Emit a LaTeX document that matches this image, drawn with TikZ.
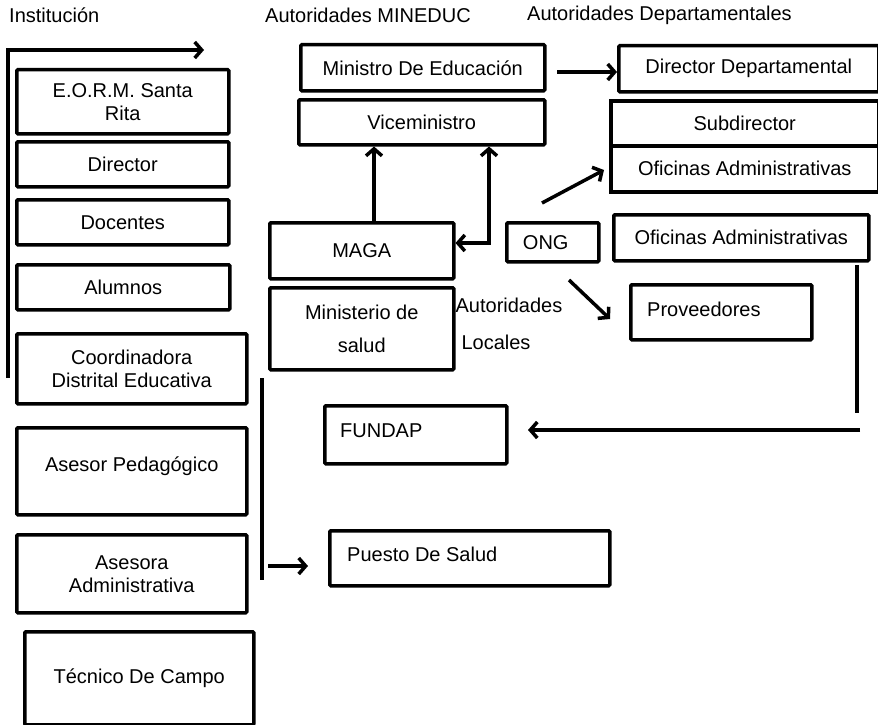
\documentclass[tikz,border=0pt]{standalone}
\usepackage{fontspec}
\setmainfont{Liberation Sans}
\usetikzlibrary{arrows.meta,calc}
\begin{document}
\begin{tikzpicture}[x=1pt,y=-1pt,
  every node/.style={font=\fontsize{20}{23}\selectfont, inner sep=0pt},
  box/.style={draw, line width=3.5pt, rounded corners=1pt, align=center, anchor=north west},
  ln/.style={line width=3.5pt},
  arr/.style={line width=3.5pt, -{Straight Barb[length=7pt,width=16pt,line width=3.5pt]}},
  darr/.style={line width=3.5pt, {Straight Barb[length=7pt,width=16pt,line width=3.5pt]}-{Straight Barb[length=7pt,width=16pt,line width=3.5pt]}},
  lab/.style={anchor=west}]
\useasboundingbox (0,0) rectangle (878,725);

% headers
\node[lab] (hInst) at (9,15) {Institución};
\node[lab] (hMin) at (265,15) {Autoridades MINEDUC};
\node[lab] (hDep) at (527,15) {Autoridades Departamentales};

% left column
\node[box, minimum width=212, minimum height=64] (eorm) at (15,68) {E.O.R.M. Santa\\Rita};
\node[box, minimum width=212, minimum height=45] (dir) at (15,140) {Director};
\node[box, minimum width=212, minimum height=45] (doc) at (15,198) {Docentes};
\node[box, minimum width=213, minimum height=45] (alu) at (15,263) {Alumnos};
\node[box, minimum width=230, minimum height=70] (coord) at (15,332) {Coordinadora\\Distrital Educativa};
\node[box, minimum width=230, minimum height=87] (ases) at (15,426) {Asesor Pedagógico\\[-8pt]};
\node[box, minimum width=230, minimum height=78] (asea) at (15,533) {Asesora\\Administrativa};
\node[box, minimum width=229, minimum height=93] (tec) at (23,630) {Técnico De Campo};

% left bracket arrow
\coordinate (lb) at (8,378);
\coordinate (lt) at (8,50);
\coordinate (la) at (204,50);
\draw[arr] (lb) -- (lt) -- (la);

% MINEDUC
\node[box, minimum width=244, minimum height=46] (minis) at (299,43) {Ministro De Educación};
\node[box, minimum width=246, minimum height=45] (vice) at (297,98) {Viceministro};
\node[box, minimum width=184, minimum height=56] (maga) at (268,221) {MAGA};
\node[box, minimum width=92, minimum height=39] (ong) at (505,221) {ONG\hspace{14pt}};
\node[box, minimum width=184, minimum height=82] (msal) at (268,286) {Ministerio de\\[10pt]salud};
\node[box, minimum width=182, minimum height=58] (fundap) at (323,404) {};
\node[anchor=west] (fundapT) at ($(fundap.west)+(17,-4)$) {FUNDAP};
\node[box, minimum width=280, minimum height=55] (puesto) at (328,529) {};
\node[anchor=west] (puestoT) at ($(puesto.west)+(19,-4)$) {Puesto De Salud};

\node (autA) at (509,305) {Autoridades};
\node (autB) at (496,342) {Locales};

% departamentales
\node[box, minimum width=260, minimum height=46] (dd) at (617,44) {Director Departamental};
\node[box, minimum width=268, minimum height=45, rounded corners=0pt] (sub) at (609,99) {Subdirector};
\node[box, minimum width=268, minimum height=46, rounded corners=0pt] (ofi1) at (609,144) {Oficinas Administrativas};
\node[box, minimum width=255, minimum height=46] (ofi2) at (612,213) {Oficinas Administrativas};
\node[box, minimum width=181, minimum height=55] (prov) at (629,283) {};
\node[anchor=west] (provT) at ($(prov.west)+(18,-3)$) {Proveedores};

% connectors
\draw[arr] (maga.north -| 374,0) -- (vice.south -| 374,0);
\coordinate (mc) at (489,243);
\draw[darr] (maga.east |- mc) -- (mc) -- (vice.south -| mc);
\draw[arr] (557,72) -- (dd.west |- 0,72);
\coordinate (ongA) at (542,203);
\draw[arr] (ongA) -- (604,170);
\coordinate (ongB) at (569,280);
\draw[arr] (ongB) -- (610,319);
\coordinate (rv1) at (857,265);
\coordinate (rv2) at (857,413);
\draw[ln] (rv1) -- (rv2);
\coordinate (rh) at (860,430);
\draw[arr] (rh) -- (528,430);
\coordinate (cv1) at (262,378);
\coordinate (cv2) at (262,580);
\draw[ln] (cv1) -- (cv2);
\coordinate (ca) at (268,566);
\draw[arr] (ca) -- (308,566);
\end{tikzpicture}
\end{document}
